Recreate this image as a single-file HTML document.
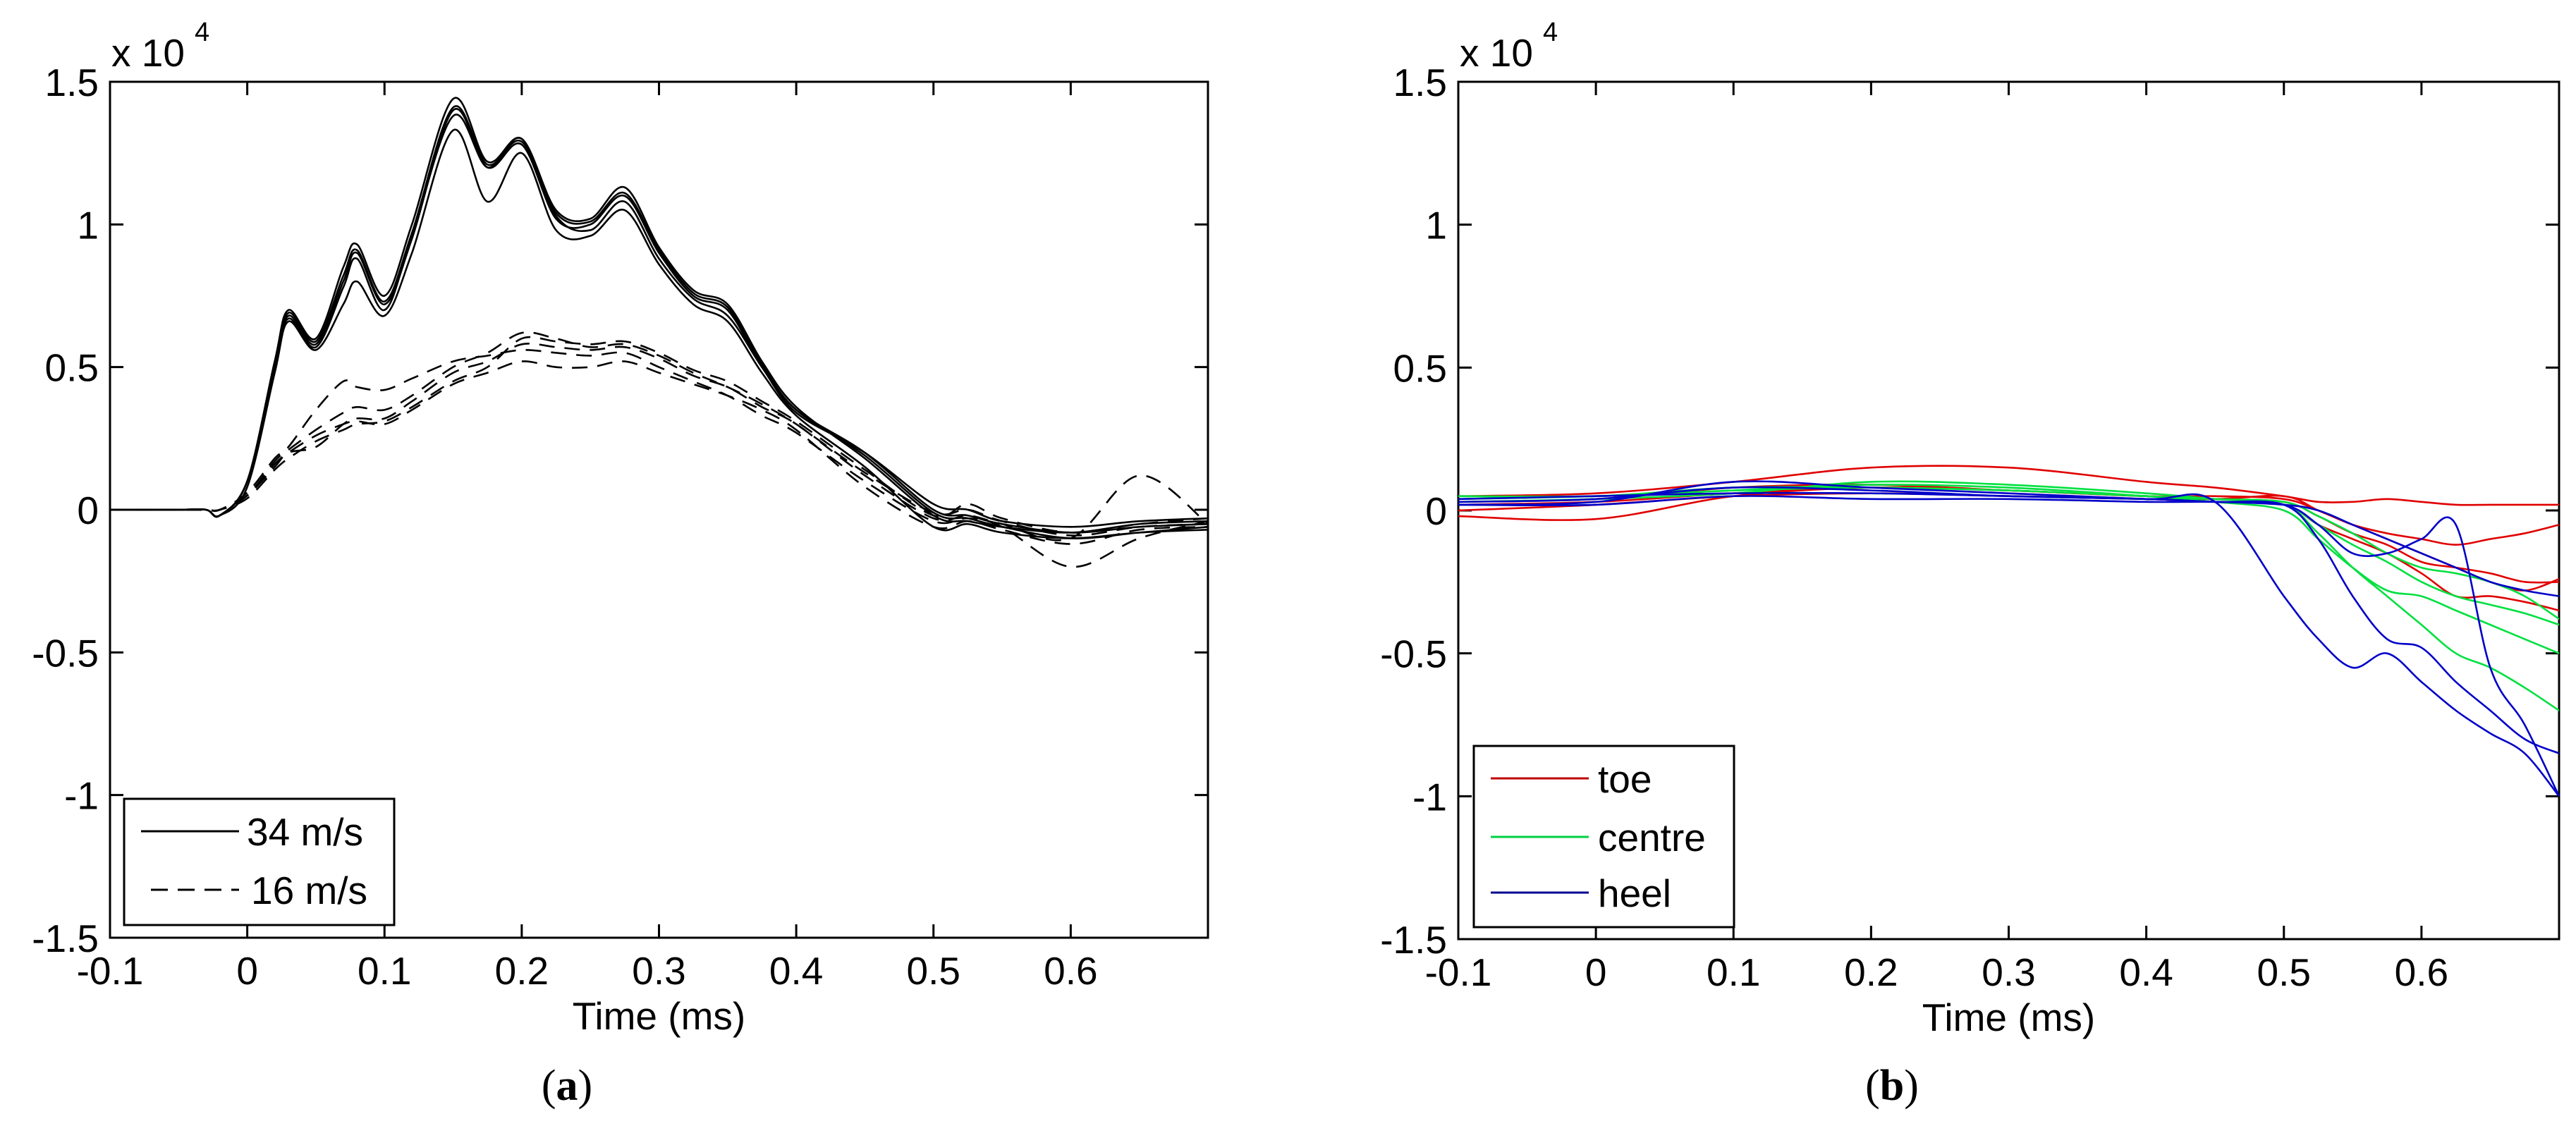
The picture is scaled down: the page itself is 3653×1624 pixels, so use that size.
<!DOCTYPE html>
<html><head><meta charset="utf-8"><style>
html,body{margin:0;padding:0;background:#fff;}
svg text{font-family:"Liberation Sans",Arial,sans-serif;fill:#000;}
</style></head><body>
<svg id="fig" width="3653" height="1619" viewBox="0 0 3653 1619" xmlns="http://www.w3.org/2000/svg">
<defs>
<clipPath id="clipA"><rect x="156" y="116" width="1557" height="1215"/></clipPath>
<clipPath id="clipB"><rect x="2068" y="116" width="1561" height="1216"/></clipPath>
</defs>
<g id="panelA"></g>
<g id="panelB"></g>
<text x="804" y="1560" font-size="62" text-anchor="middle" style="font-family:'Liberation Serif',serif">(<tspan font-weight="bold">a</tspan>)</text>
<text x="2683" y="1560" font-size="62" text-anchor="middle" style="font-family:'Liberation Serif',serif">(<tspan font-weight="bold">b</tspan>)</text>
</svg>
<script>
// ---- Data panel (a) ----
const timesA = [-0.1,-0.05,-0.03,-0.02,0,0.02,0.03,0.05,0.07,0.08,0.1,0.12,0.15,0.175,0.2,0.225,0.25,0.275,0.3,0.325,0.35,0.375,0.4,0.45,0.5,0.525,0.55,0.6,0.65,0.7];
const fast1 = [0,0,0,-0.02,0.1,0.5,0.68,0.58,0.8,0.9,0.72,0.95,1.4,1.2,1.28,1.02,1.0,1.1,0.9,0.75,0.7,0.5,0.35,0.2,0.0,-0.02,-0.05,-0.08,-0.06,-0.05];
const fast2 = [0,0,0,-0.02,0.1,0.52,0.7,0.6,0.85,0.93,0.75,1.0,1.44,1.22,1.3,1.05,1.02,1.13,0.92,0.77,0.72,0.52,0.36,0.18,-0.02,-0.04,-0.06,-0.08,-0.05,-0.04];
const fast3 = [0,0,0,-0.02,0.08,0.48,0.66,0.56,0.72,0.8,0.68,0.9,1.33,1.08,1.25,0.98,0.96,1.05,0.86,0.72,0.66,0.48,0.33,0.15,-0.06,-0.05,-0.08,-0.1,-0.08,-0.07];
const fast4 = [0,0,0,-0.02,0.1,0.5,0.67,0.57,0.78,0.88,0.7,0.96,1.38,1.2,1.3,1.03,0.98,1.08,0.88,0.74,0.68,0.5,0.34,0.2,0.02,0.0,-0.04,-0.06,-0.04,-0.03];
const fast5 = [0,0,0,-0.02,0.1,0.5,0.69,0.59,0.82,0.91,0.73,0.97,1.41,1.21,1.29,1.04,1.01,1.11,0.91,0.76,0.71,0.51,0.35,0.19,-0.01,-0.03,-0.06,-0.1,-0.08,-0.06];
const slow1 = [0,0,0,0.0,0.05,0.15,0.2,0.22,0.3,0.32,0.32,0.38,0.48,0.52,0.58,0.57,0.56,0.57,0.53,0.47,0.43,0.36,0.3,0.12,-0.03,-0.02,-0.05,-0.1,0.12,-0.05];
const slow2 = [0,0,0,0.0,0.06,0.18,0.22,0.35,0.45,0.43,0.42,0.46,0.52,0.54,0.56,0.55,0.54,0.55,0.5,0.45,0.4,0.33,0.27,0.1,-0.04,-0.03,-0.06,-0.2,-0.1,-0.04];
const slow3 = [0,0,0,0.0,0.04,0.14,0.18,0.24,0.28,0.3,0.31,0.36,0.45,0.5,0.6,0.59,0.58,0.59,0.55,0.49,0.45,0.38,0.31,0.14,-0.02,0.02,-0.03,-0.08,-0.05,-0.03];
const slow4 = [0,0,0,0.0,0.05,0.16,0.2,0.26,0.3,0.31,0.3,0.35,0.44,0.48,0.52,0.5,0.5,0.52,0.48,0.44,0.4,0.35,0.28,0.08,-0.06,-0.04,-0.07,-0.12,-0.07,-0.06];
const slow5 = [0,0,0,0.0,0.05,0.17,0.21,0.28,0.34,0.36,0.35,0.4,0.5,0.55,0.62,0.6,0.57,0.58,0.54,0.48,0.43,0.37,0.3,0.13,-0.01,0.0,-0.04,-0.09,-0.06,-0.05];
const fastSeries = [fast1,fast2,fast3,fast4,fast5];
const slowSeries = [slow1,slow2,slow3,slow4,slow5];
// ---- Data panel (b) ----
const timesB = [-0.1,0,0.1,0.2,0.3,0.4,0.45,0.5,0.525,0.55,0.575,0.6,0.625,0.65,0.675,0.7];
const toe1 = [0.05,0.06,0.1,0.15,0.15,0.1,0.08,0.05,0.03,0.03,0.04,0.03,0.02,0.02,0.02,0.02];
const toe2 = [-0.02,-0.03,0.05,0.08,0.07,0.05,0.05,0.04,0.0,-0.05,-0.08,-0.1,-0.12,-0.1,-0.08,-0.05];
const toe3 = [0.02,0.03,0.06,0.08,0.07,0.05,0.04,0.03,-0.02,-0.08,-0.12,-0.18,-0.2,-0.22,-0.25,-0.25];
const toe4 = [0.03,0.04,0.08,0.09,0.07,0.05,0.04,0.05,0.0,-0.05,-0.1,-0.15,-0.2,-0.25,-0.28,-0.24];
const toe5 = [0.0,0.02,0.05,0.06,0.05,0.04,0.03,0.02,-0.05,-0.1,-0.15,-0.22,-0.3,-0.3,-0.32,-0.35];
const centre1 = [0.05,0.05,0.08,0.08,0.07,0.05,0.04,0.02,-0.05,-0.12,-0.18,-0.25,-0.3,-0.33,-0.36,-0.4];
const centre2 = [0.04,0.05,0.07,0.09,0.08,0.05,0.03,0.0,-0.1,-0.2,-0.28,-0.3,-0.35,-0.4,-0.45,-0.5];
const centre3 = [0.03,0.04,0.06,0.1,0.09,0.06,0.04,0.02,-0.08,-0.2,-0.3,-0.4,-0.5,-0.55,-0.62,-0.7];
const centre4 = [0.05,0.05,0.07,0.08,0.07,0.05,0.04,0.03,-0.02,-0.08,-0.15,-0.2,-0.22,-0.25,-0.3,-0.38];
const heel1 = [0.02,0.03,0.1,0.08,0.06,0.04,0.03,-0.3,-0.45,-0.55,-0.5,-0.6,-0.7,-0.78,-0.85,-1.0];
const heel2 = [0.03,0.04,0.08,0.07,0.05,0.04,0.03,0.02,-0.1,-0.3,-0.45,-0.48,-0.6,-0.7,-0.8,-0.85];
const heel3 = [0.04,0.05,0.06,0.06,0.05,0.04,0.03,0.02,-0.05,-0.15,-0.15,-0.1,-0.05,-0.55,-0.75,-1.0];
const heel4 = [0.02,0.02,0.05,0.04,0.04,0.03,0.03,0.02,0.0,-0.05,-0.1,-0.15,-0.2,-0.25,-0.28,-0.3];
const toeSeries = [toe1,toe2,toe3,toe4,toe5];
const centreSeries = [centre1,centre2,centre3,centre4];
const heelSeries = [heel1,heel2,heel3,heel4];
// ---- Ticks ----
const xTicks = [-0.1,0,0.1,0.2,0.3,0.4,0.5,0.6];
const xTickLabels = ["-0.1","0","0.1","0.2","0.3","0.4","0.5","0.6"];
const yTicks = [-1.5,-1,-0.5,0,0.5,1,1.5];
const yTickLabels = ["-1.5","-1","-0.5","0","0.5","1","1.5"];

const NS = "http://www.w3.org/2000/svg";
function mk(tag, attrs, parent){const e=document.createElementNS(NS,tag);for(const k in attrs)e.setAttribute(k,attrs[k]);parent.appendChild(e);return e;}

function makeAxes(g, L, T, R, B, clipId){
  const xs = v => L + (v + 0.1) / 0.8 * (R - L);
  const ys = v => B - (v + 1.5) / 3.0 * (B - T);
  const frame = mk('rect',{x:L,y:T,width:R-L,height:B-T,fill:'none',stroke:'#000','stroke-width':3},g);
  
  
  xTicks.forEach((v,i)=>{
    const x=xs(v);
    const t=mk('path',{d:`M${x},${B}V${B-19}M${x},${T}V${T+19}`,stroke:'#000','stroke-width':3},g);
    
    
    const lb=mk('text',{x:x,y:B+66,'font-size':55,'text-anchor':'middle'},g);
    lb.textContent=xTickLabels[i];
    
    
  });
  yTicks.forEach((v,i)=>{
    const y=ys(v);
    const t=mk('path',{d:`M${L},${y}H${L+19}M${R},${y}H${R-19}`,stroke:'#000','stroke-width':3},g);
    
    
    const lb=mk('text',{x:L-16,y:y+20,'font-size':55,'text-anchor':'end'},g);
    lb.textContent=yTickLabels[i];
    
    
  });
  const ex=mk('text',{x:L+2,y:T-22,'font-size':55},g);
  ex.textContent='x 10';
  
  
  const sup=mk('text',{x:L+120,y:T-58,'font-size':38},g);
  sup.textContent='4';
  
  
  const xl=mk('text',{x:(L+R)/2,y:B+130,'font-size':55,'text-anchor':'middle'},g);
  xl.textContent='Time (ms)';
  
  
  const plot=mk('g',{'clip-path':`url(#${clipId})`},g);
  
  
  return {xs,ys,plot};
}
function smoothPath(pts){
  let d=`M${pts[0][0]},${pts[0][1]}`;
  for(let i=0;i<pts.length-1;i++){
    const p0=pts[Math.max(0,i-1)],p1=pts[i],p2=pts[i+1],p3=pts[Math.min(pts.length-1,i+2)];
    const c1x=p1[0]+(p2[0]-p0[0])/6,c1y=p1[1]+(p2[1]-p0[1])/6;
    const c2x=p2[0]-(p3[0]-p1[0])/6,c2y=p2[1]-(p3[1]-p1[1])/6;
    d+=`C${c1x},${c1y} ${c2x},${c2y} ${p2[0]},${p2[1]}`;
  }
  return d;
}
function drawSeries(ax, times, vals, color, dash, name){
  const pts=times.map((t,i)=>[ax.xs(t),ax.ys(vals[i])]);
  const p=mk('path',{d:smoothPath(pts),fill:'none',stroke:color,'stroke-width':2.6},ax.plot);
  if(dash)p.setAttribute('stroke-dasharray',dash);
  
  
}

const gA=document.getElementById('panelA');
const axA=makeAxes(gA,156,116,1713,1330,'clipA');
fastSeries.forEach(s=>drawSeries(axA,timesA,s,'#000',null,'line-34ms'));
slowSeries.forEach(s=>drawSeries(axA,timesA,s,'#000','22,14','line-16ms'));

const gB=document.getElementById('panelB');
const axB=makeAxes(gB,2068,116,3629,1332,'clipB');
toeSeries.forEach(s=>drawSeries(axB,timesB,s,'#e00000',null,'line-toe'));
centreSeries.forEach(s=>drawSeries(axB,timesB,s,'#00e040',null,'line-centre'));
heelSeries.forEach(s=>drawSeries(axB,timesB,s,'#0000c8',null,'line-heel'));

// legends
function legend(g, x, y, w, h, entries){
  const lg=mk('g',{},g);
  
  
  mk('rect',{x:x,y:y,width:w,height:h,fill:'#fff',stroke:'#000','stroke-width':3},lg);
  entries.forEach(e=>{
    const en=mk('g',{},lg);
    
    
    const ln=mk('line',{x1:e.x1,x2:e.x2,y1:e.y,y2:e.y,stroke:e.color,'stroke-width':3},en);
    if(e.dash)ln.setAttribute('stroke-dasharray',e.dash);
    const t=mk('text',{x:e.tx,y:e.y+20,'font-size':55},en);
    t.textContent=e.label;
  });
}
legend(gA,176,1133,383,179,[
  {x1:200,x2:339,y:1179,color:'#000',label:'34 m/s',tx:350},
  {x1:214,x2:339,y:1262,color:'#000',dash:'24,14',label:'16 m/s',tx:356}
]);
legend(gB,2090,1058,369,257,[
  {x1:2114,x2:2253,y:1104,color:'#c00000',label:'toe',tx:2266},
  {x1:2114,x2:2253,y:1187,color:'#00d040',label:'centre',tx:2266},
  {x1:2114,x2:2253,y:1266,color:'#000090',label:'heel',tx:2266}
]);
</script>
</body></html>
